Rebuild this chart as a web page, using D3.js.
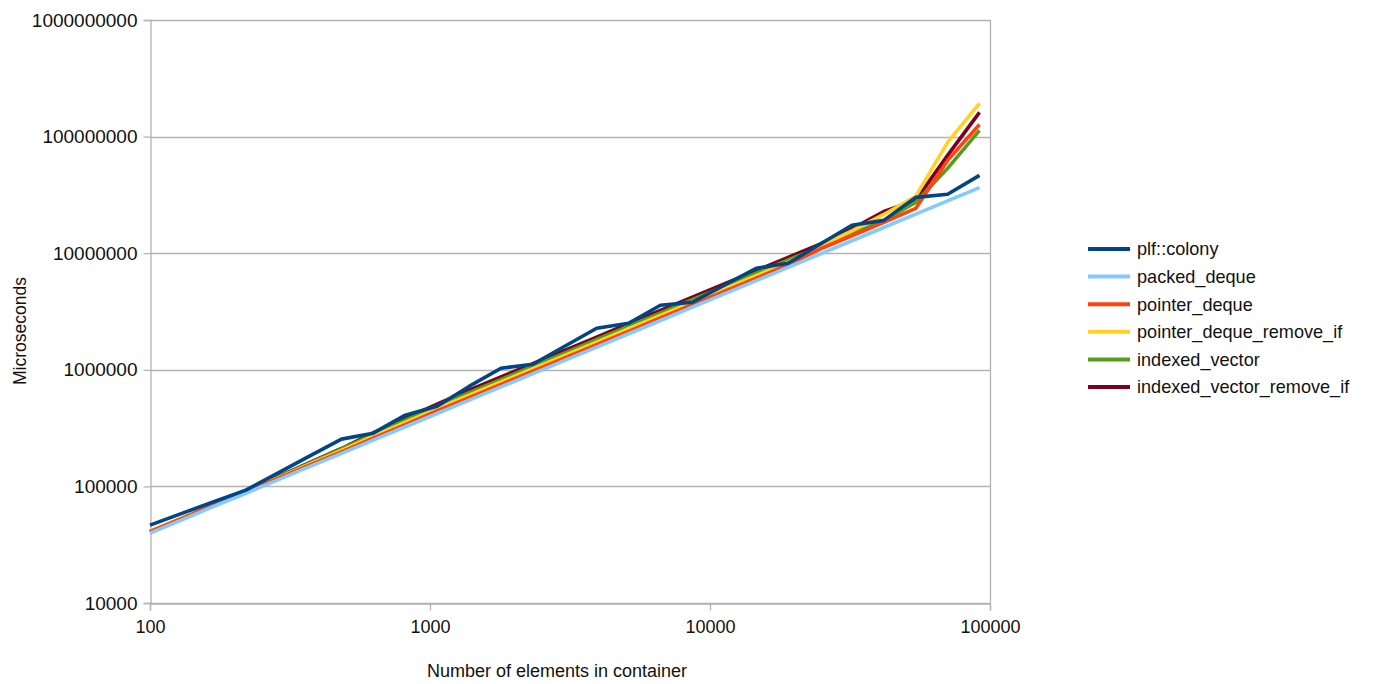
<!DOCTYPE html>
<html>
<head>
<meta charset="utf-8">
<script src="https://cdn.jsdelivr.net/npm/d3@7/dist/d3.min.js"></script>
<style>
  html, body { margin: 0; padding: 0; background: #fff; }
  svg { display: block; }
  text { font-family: "Liberation Sans", Arial, sans-serif; fill: #111; }
</style>
</head>
<body>
<svg id="chart" width="1374" height="684"></svg>
<script>
// Container sizes tested (number of elements)
const sizes = [100, 130, 169, 220, 286, 371, 483, 627, 816, 1060, 1379, 1792, 2330, 3029,
  3937, 5119, 6654, 8650, 11246, 14619, 19005, 24706, 32118, 41754, 54280, 70564, 91733];

// Total time in microseconds for each container type
const colony = [46600, 58700, 73800, 92950, 130000, 181800, 254300, 286200, 408300, 487600,
  720000, 1032000, 1117000, 1593000, 2273000, 2507000, 3577000, 3796000, 5310000, 7420000,
  8200000, 11920000, 17340000, 19130000, 30100000, 32000000, 46500000];
const packedDeque = [39800, 51700, 67300, 87400, 113700, 147800, 192100, 249700, 324600, 422000,
  548600, 713200, 927200, 1205000, 1567000, 2037000, 2648000, 3443000, 4475000, 5818000,
  7564000, 9833000, 12780000, 16620000, 21600000, 28090000, 36510000];
const pointerDeque = [40990, 53250, 69320, 90020, 117100, 152200, 197900, 259700, 339200, 443100,
  576000, 748900, 973600, 1265000, 1645000, 2139000, 2780000, 3615000, 4699000, 6109000,
  7942000, 10860000, 14110000, 18350000, 24200000, 62500000, 127000000];
const pointerDequeRemoveIf = [41390, 53770, 70000, 90900, 118200, 155200, 203600, 269700, 353800, 464200,
  605600, 787400, 1024000, 1330000, 1730000, 2249000, 2923000, 3801000, 4940000, 6423000,
  8351000, 11510000, 15570000, 21490000, 30700000, 89200000, 192500000];
const indexedVector = [40600, 52730, 69320, 90900, 119400, 158100, 209400, 279700, 370000, 485300,
  636400, 827300, 1076000, 1398000, 1818000, 2363000, 3072000, 3994000, 5191000, 6749000,
  8774000, 11290000, 14670000, 19080000, 27300000, 53400000, 113000000];
const indexedVectorRemoveIf = [40990, 53250, 69990, 91770, 120500, 159600, 211300, 287200, 383000, 506400,
  668200, 868700, 1129000, 1468000, 1909000, 2481000, 3225000, 4194000, 5451000, 7086000,
  9213000, 11980000, 16190000, 22790000, 28400000, 69000000, 161200000];

const seriesNames = ["plf::colony", "packed_deque", "pointer_deque", "pointer_deque_remove_if",
  "indexed_vector", "indexed_vector_remove_if"];
const seriesColors = ["#004586", "#83caff", "#ff420e", "#ffd320", "#579d1c", "#7e0021"];
const seriesValues = [colony, packedDeque, pointerDeque, pointerDequeRemoveIf, indexedVector, indexedVectorRemoveIf];

const xTicks = [100, 1000, 10000, 100000];
const yTicks = [10000, 100000, 1000000, 10000000, 100000000, 1000000000];

const plot = { left: 150, right: 990, top: 20, bottom: 603 };
const svg = d3.select("#chart");

const x = d3.scaleLog().domain([100, 100000]).range([plot.left, plot.right]);
const y = d3.scaleLog().domain([10000, 1000000000]).range([plot.bottom, plot.top]);

const gridColor = "#b3b3b3";

// horizontal gridlines
svg.append("g").selectAll("line").data(yTicks).join("line")
  .attr("x1", plot.left).attr("x2", plot.right)
  .attr("y1", d => Math.round(y(d)) + 0.5).attr("y2", d => Math.round(y(d)) + 0.5)
  .attr("stroke", gridColor).attr("stroke-width", 1.3);

// right border of the plot area
svg.append("line")
  .attr("x1", plot.right + 0.5).attr("x2", plot.right + 0.5)
  .attr("y1", plot.top).attr("y2", plot.bottom)
  .attr("stroke", gridColor).attr("stroke-width", 1.3);

// y axis
const yAxis = d3.axisLeft(y).tickValues(yTicks).tickFormat(d3.format("d")).tickSize(7).tickPadding(6);
const gy = svg.append("g").attr("transform", `translate(${plot.left + 0.5},0)`).call(yAxis);
gy.select(".domain").attr("stroke", gridColor).attr("stroke-width", 1.3);
gy.selectAll(".tick line").attr("stroke", gridColor).attr("stroke-width", 1.3);
gy.selectAll(".tick text").attr("font-size", 19).attr("font-family", "Liberation Sans, Arial, sans-serif").attr("fill", "#111");

// x axis
const xAxis = d3.axisBottom(x).tickValues(xTicks).tickFormat(d3.format("d")).tickSize(7).tickPadding(10);
const gx = svg.append("g").attr("transform", `translate(0,${plot.bottom + 0.5})`).call(xAxis);
gx.select(".domain").attr("stroke", gridColor).attr("stroke-width", 1.3);
gx.selectAll(".tick line").attr("stroke", gridColor).attr("stroke-width", 1.3);
gx.selectAll(".tick text").attr("font-size", 18).attr("font-family", "Liberation Sans, Arial, sans-serif").attr("fill", "#111");

// axis titles
svg.append("text")
  .attr("x", 557).attr("y", 677)
  .attr("text-anchor", "middle").attr("font-size", 18)
  .text("Number of elements in container");
svg.append("text")
  .attr("transform", "translate(26,331) rotate(-90)")
  .attr("text-anchor", "middle").attr("font-size", 17.5)
  .text("Microseconds");

// series lines, drawn last-to-first so plf::colony sits on top
const line = d3.line().x((d, i) => x(sizes[i])).y(d => y(d));
const drawOrder = d3.range(seriesValues.length).reverse();
svg.append("g").selectAll("path").data(drawOrder).join("path")
  .attr("d", k => line(seriesValues[k]))
  .attr("fill", "none")
  .attr("stroke", k => seriesColors[k])
  .attr("stroke-width", 3.6)
  .attr("stroke-linejoin", "round")
  .attr("stroke-linecap", "butt");

// legend
const legend = svg.append("g").attr("transform", "translate(1088,249)");
const rows = legend.selectAll("g").data(seriesNames).join("g")
  .attr("transform", (d, i) => `translate(0,${i * 27.6})`);
rows.append("line")
  .attr("x1", 0).attr("x2", 42).attr("y1", 0).attr("y2", 0)
  .attr("stroke", (d, i) => seriesColors[i]).attr("stroke-width", 4);
rows.append("text")
  .attr("x", 49).attr("y", 0).attr("dy", "0.35em")
  .attr("font-size", 18.1)
  .text(d => d);
</script>
</body>
</html>
